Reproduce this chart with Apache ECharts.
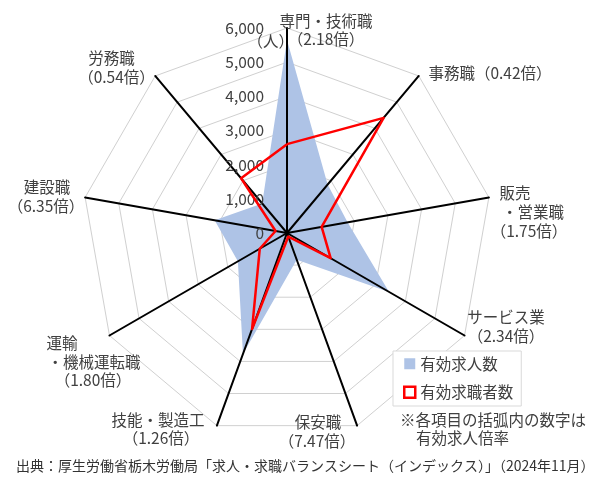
<!DOCTYPE html>
<html><head><meta charset="utf-8">
<script src="https://cdn.jsdelivr.net/npm/echarts@6/dist/echarts.min.js"></script>
<style>html,body{margin:0;padding:0;background:#fff}#c{width:603px;height:479px}</style>
</head><body><div id="c"></div>
<script>
// ---- data ----
const categories = ['専門・技術職', '事務職', '販売\n・営業職', 'サービス業', '保安職', '技能・製造工', '運輸\n・機械運転職', '建設職', '労務職'];
const ratios = [2.18, 0.42, 1.75, 2.34, 7.47, 1.26, 1.80, 6.35, 0.54];
const jobOffers = [5650, 1850, 1800, 3450, 830, 3770, 1660, 2150, 1130];   // 有効求人数
const jobSeekers = [2600, 4400, 1030, 1475, 111, 2990, 920, 340, 2090];    // 有効求職者数
const tickValues = [0, 1000, 2000, 3000, 4000, 5000, 6000];
const seriesNames = ['有効求人数', '有効求職者数'];
const unitLabel = '（人）';
const noteLines = ['※各項目の括弧内の数字は', '有効求人倍率'];
const sourceText = '出典：厚生労働省栃木労働局「求人・求職バランスシート（インデックス）」（2024年11月）';

// ---- layout / style ----
const CX = 287, CY = 233, R = 205;
const FONT_FAMILY = '"Noto Sans CJK JP", "Noto Sans", sans-serif';
const FS = 15.5;
const TXT = '#404040';
const BLUE = '#aec3e6', RED = '#ff0000';
// centre x / y of each text line of each category label (name lines, then ratio line)
const labelPos = [
  [[326, 21], [326, 39.5]],
  [[490, 73]],
  [[515, 193], [533, 212], [529, 231]],
  [[506, 317], [506, 336]],
  [[318, 422], [317, 441]],
  [[158, 420], [161, 438.5]],
  [[62, 343], [94, 362], [93, 380]],
  [[47, 187], [46, 206]],
  [[111.5, 58.5], [116.5, 77]]
];
const notePos = [[400, 420], [416, 438]];

// ECharts lays radar indicators out counter-clockwise; the picture goes clockwise.
const order = [0, 8, 7, 6, 5, 4, 3, 2, 1];
const axisMax = tickValues[tickValues.length - 1];

function indicators(withLabel) {
  return order.map((i, k) => {
    const o = { name: categories[i], min: tickValues[0], max: axisMax };
    if (withLabel && k === 0) o.axisLabel = { show: true };
    return o;
  });
}

const graphics = [];
categories.forEach((name, i) => {
  const ratioText = '（' + ratios[i].toFixed(2) + '倍）';
  let lines = name.split('\n');
  if (labelPos[i].length === lines.length) lines[lines.length - 1] += ratioText;
  else lines.push(ratioText);
  lines.forEach((t, j) => {
    graphics.push({
      type: 'text', x: labelPos[i][j][0], y: labelPos[i][j][1], z: 10,
      style: { text: t, fill: TXT, fontSize: FS, fontFamily: FONT_FAMILY,
        textAlign: 'center', textVerticalAlign: 'middle', align: 'center', verticalAlign: 'middle' }
    });
  });
});
graphics.push({
  type: 'text', x: 294, y: 41.5, z: 10,
  style: { text: unitLabel, fill: TXT, fontSize: FS, fontFamily: FONT_FAMILY,
    textAlign: 'right', textVerticalAlign: 'middle', align: 'right', verticalAlign: 'middle' }
});
noteLines.forEach((t, j) => {
  graphics.push({
    type: 'text', x: notePos[j][0], y: notePos[j][1], z: 10,
    style: { text: t, fill: TXT, fontSize: FS, fontFamily: FONT_FAMILY,
      textAlign: 'left', textVerticalAlign: 'middle', align: 'left', verticalAlign: 'middle' }
  });
});
graphics.push({
  type: 'text', x: 16, y: 465.5, z: 10,
  style: { text: sourceText, fill: '#333', fontSize: 14, fontFamily: FONT_FAMILY,
    textAlign: 'left', textVerticalAlign: 'middle', align: 'left', verticalAlign: 'middle' }
});

const chart = echarts.init(document.getElementById('c'), null, { renderer: 'canvas' });
chart.setOption({
  animation: false,
  backgroundColor: '#fff',
  textStyle: { fontFamily: FONT_FAMILY },
  radar: [
    {
      center: [CX, CY], radius: R, startAngle: 90, shape: 'polygon',
      splitNumber: tickValues.length - 1,
      indicator: indicators(false),
      axisName: { show: false },
      axisLine: { show: false },
      axisTick: { show: false },
      axisLabel: { show: false },
      splitLine: { show: true, lineStyle: { color: '#d0d0d0', width: 1 } },
      splitArea: { show: false },
      z: 0
    },
    {
      center: [CX, CY], radius: R, startAngle: 90, shape: 'polygon',
      splitNumber: tickValues.length - 1,
      indicator: indicators(true),
      axisName: { show: false },
      axisLine: { show: true, lineStyle: { color: '#000', width: 2 } },
      axisTick: { show: false },
      axisLabel: { show: false, margin: 23, color: TXT, fontSize: FS, fontFamily: FONT_FAMILY },
      splitLine: { show: false },
      splitArea: { show: false },
      z: 3
    }
  ],
  legend: {
    orient: 'vertical', left: 393, top: 351,
    padding: [5, 8, 6, 10], itemGap: 13, itemWidth: 11, itemHeight: 11,
    borderColor: '#d9d9d9', borderWidth: 1, backgroundColor: '#fff',
    selectedMode: false, z: 8,
    textStyle: { fontSize: FS, color: TXT, fontFamily: FONT_FAMILY },
    data: [
      { name: seriesNames[0], icon: 'rect', itemStyle: { color: BLUE, borderWidth: 0 } },
      { name: seriesNames[1], icon: 'rect', itemStyle: { color: '#fff', borderColor: RED, borderWidth: 2.5 } }
    ]
  },
  series: [
    {
      type: 'radar', radarIndex: 0, z: 2, symbol: 'none', silent: true,
      data: [{
        name: seriesNames[0], value: order.map(i => jobOffers[i]),
        lineStyle: { width: 0, color: BLUE },
        itemStyle: { color: BLUE },
        areaStyle: { color: BLUE, opacity: 1 }
      }]
    },
    {
      type: 'radar', radarIndex: 1, z: 5, symbol: 'none', silent: true,
      data: [{
        name: seriesNames[1], value: order.map(i => jobSeekers[i]),
        lineStyle: { width: 2.5, color: RED },
        itemStyle: { color: RED }
      }]
    }
  ],
  graphic: graphics
});
</script></body></html>
